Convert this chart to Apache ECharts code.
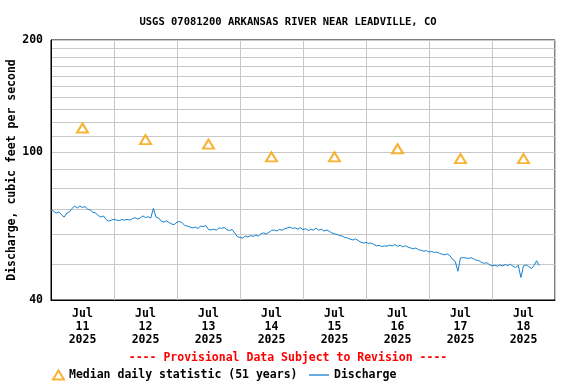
<!DOCTYPE html>
<html><head><meta charset="utf-8">
<script src="https://cdn.jsdelivr.net/npm/echarts@6/dist/echarts.min.js"></script>
<style>html,body{margin:0;padding:0;background:#fff}#c{width:576px;height:384px}</style>
</head><body><div id="c"></div>
<script>
// Day labels (ticks at noon of each day), hours since Jul 11 2025 00:00
const dayLabels = ['11','12','13','14','15','16','17','18'];
const labelHours = [12,36,60,84,108,132,156,180];
// Median daily statistic (51 years), one per day
const medianValues = [116,108,105,97,97,102,96,96];
// Discharge, hourly from Jul 11 00:00 (cfs)
const discharge = [
69.8,69.3,68.5,69.0,67.8,66.8,68.5,69.0,70.5,71.6,70.7,71.6,70.9,71.3,70.2,69.8,68.8,68.5,67.5,66.8,67.3,65.8,65.2,65.6,
65.9,65.6,65.4,65.8,65.6,65.9,65.6,66.2,66.6,66.0,66.5,67.3,66.6,67.0,66.4,70.5,66.8,66.4,65.2,64.8,65.3,64.6,64.0,63.8,
64.8,65.0,64.5,63.4,63.2,62.8,62.5,62.8,62.3,63.2,63.0,63.4,61.9,61.7,62.0,61.6,62.5,62.3,62.7,61.8,61.5,61.9,60.5,59.2,
58.9,58.7,59.4,59.1,59.6,59.3,59.8,59.4,60.3,60.6,60.2,60.8,61.5,61.7,61.3,61.9,61.6,62.2,62.5,62.8,62.3,62.5,62.0,62.6,
61.8,62.2,61.5,61.9,61.7,62.4,61.6,62.0,61.3,61.7,61.2,60.6,60.2,60.0,59.6,59.4,58.9,58.7,58.3,58.0,58.4,57.8,57.2,56.9,
57.1,56.8,56.9,56.4,55.9,56.1,55.7,55.9,55.8,56.2,55.9,56.4,55.8,56.1,55.6,56.0,55.5,55.2,54.9,55.2,54.6,54.4,54.1,54.3,
53.8,54.0,53.7,53.8,53.4,53.1,52.9,53.2,52.6,51.4,50.8,47.8,51.9,52.0,51.9,51.7,52.0,51.6,51.2,51.0,50.5,50.2,50.4,49.8,
49.4,49.6,49.3,49.7,49.4,49.8,49.5,49.9,49.3,48.9,49.6,46.0,49.4,49.7,49.2,48.6,49.5,51.0,49.5
];
const yGridValues = [40,50,60,70,80,90,100,110,120,130,140,150,160,170,180,190,200];
const yLabelValues = [40,100,200];

const F = 'DejaVu Sans Mono';
const legendText = {fontFamily:F,fontWeight:'bold',fontSize:11.5,color:'#000'};
const chart = echarts.init(document.getElementById('c'), null, {renderer:'canvas'});
chart.setOption({
  animation:false,
  backgroundColor:'#fff',
  title:{text:'USGS 07081200 ARKANSAS RIVER NEAR LEADVILLE, CO',left:'center',top:12,
    textStyle:{fontFamily:F,fontWeight:'bold',fontSize:10.5,color:'#000'}},
  grid:{left:51,right:21,top:40,bottom:84,outerBoundsMode:'none',containLabel:false,
    show:true,borderColor:'#000',borderWidth:1,backgroundColor:'transparent'},
  legend:[
    {left:47,top:364,itemGap:8,itemWidth:11,itemHeight:9,textStyle:legendText,
      data:[{name:'Median daily statistic (51 years)',icon:'emptyTriangle',itemStyle:{borderWidth:1}}]},
    {left:304,top:364,itemGap:5,itemWidth:20,itemHeight:9,textStyle:legendText,
      data:[{name:'Discharge',icon:'path://M0,0 L20,0 L20,1.3 L0,1.3 Z'}]}
  ],
  graphic:[{type:'text',left:'center',top:352,style:{text:'---- Provisional Data Subject to Revision ----',
    fill:'#f00',font:'bold 11.5px "DejaVu Sans Mono"'}}],
  xAxis:{type:'value',min:0,max:192,interval:24,
    axisLine:{show:true,lineStyle:{color:'#000'}},axisTick:{show:false},
    splitLine:{show:true,lineStyle:{color:'#c8c8c8',width:1}},
    axisLabel:{customValues:labelHours,margin:8,fontFamily:F,fontWeight:'bold',fontSize:11.5,color:'#000',lineHeight:13,
      formatter:v=>'Jul\n'+dayLabels[labelHours.indexOf(v)]+'\n2025'}},
  yAxis:{type:'log',logBase:10,min:40,max:200,
    name:'Discharge, cubic feet per second',nameLocation:'middle',nameGap:33,nameMoveOverlap:false,
    nameTextStyle:{fontFamily:F,fontWeight:'bold',fontSize:11.5,color:'#000'},
    axisLine:{show:true,lineStyle:{color:'#000'}},
    axisTick:{show:false,customValues:yGridValues},
    splitLine:{show:true,lineStyle:{color:'#c8c8c8',width:1}},
    minorSplitLine:{show:false},
    axisLabel:{customValues:yLabelValues,margin:8,fontFamily:F,fontWeight:'bold',fontSize:11.5,color:'#000'}},
  series:[
    {name:'Median daily statistic (51 years)',type:'scatter',symbol:'emptyTriangle',symbolSize:[11,9],
      itemStyle:{color:'#f5a000',borderWidth:1},
      data:medianValues.map((v,i)=>[labelHours[i],v])},
    {name:'Discharge',type:'line',showSymbol:false,symbol:'none',
      lineStyle:{color:'#1481d0',width:1},itemStyle:{color:'#1481d0'},
      data:discharge.map((v,i)=>[i,v])}
  ]
});
</script></body></html>
